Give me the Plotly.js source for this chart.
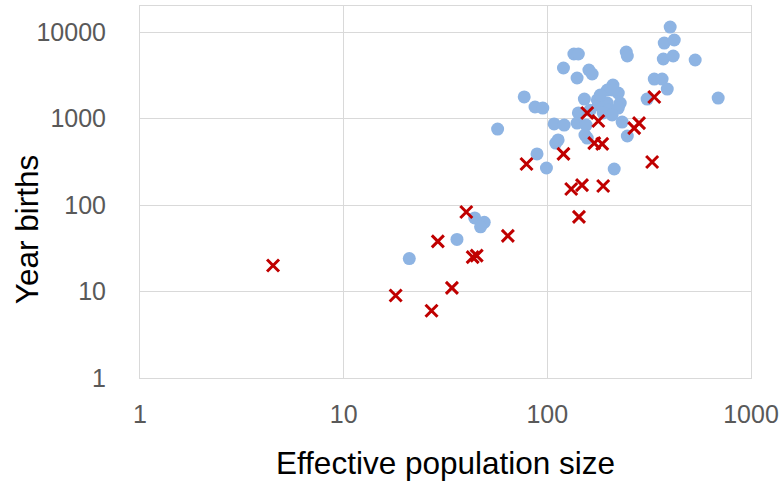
<!DOCTYPE html>
<html>
<head>
<meta charset="utf-8">
<script src="https://cdn.plot.ly/plotly-3.0.1.min.js"></script>
<style>html,body{margin:0;padding:0;background:#fff;}#chart{width:783px;height:482px;}</style>
</head>
<body>
<div id="chart"></div>
<script>
// Blue circles: effective population size vs year births
const blueNe = [21, 36, 44, 49, 47, 57, 77, 87, 95, 108, 121, 113, 110, 89, 99,
  135, 142, 120, 140, 160, 166, 244, 247, 401, 375, 420, 371, 415, 532, 335, 366, 388, 690,
  309, 152, 142, 140, 155, 153, 157, 213, 233, 247,
  210, 197, 223, 176, 197, 228, 178, 199, 223, 162, 188, 210, 208, 182];
const blueBirths = [24, 40, 71, 63, 56, 755, 1775, 1360, 1320, 865, 840, 565, 520, 390, 268,
  5570, 5570, 3840, 2940, 3640, 3270, 5870, 5280, 11400, 7460, 8090, 4875, 5280, 4750, 2860, 2860, 2190, 1725,
  1680, 1680, 1160, 887, 840, 645, 595, 261, 910, 628,
  2440, 2135, 1970, 1640, 1510, 1510, 1430, 1250, 1320, 1250, 1160, 2135, 1100, 1870];

// Red crosses
const redNe = [4.5, 18, 27, 34, 29, 40, 43, 45, 64, 79, 120, 131, 148, 188, 143, 327,
  157, 178, 170, 186, 267, 282, 335];
const redBirths = [20, 9, 6, 11, 38, 83, 25, 26, 44, 298, 390, 153, 170, 166, 73, 314,
  1160, 935, 520, 510, 775, 885, 1775];

const xTicks = [1, 10, 100, 1000];
const xTickText = ["1", "10", "100", "1000"];
const yTicks = [1, 10, 100, 1000, 10000];
const yTickText = ["1", "10", "100", "1000", "10000"];

const fontFam = '"Liberation Sans", Arial, sans-serif';

const traces = [
  {
    x: blueNe, y: blueBirths, type: 'scatter', mode: 'markers',
    marker: {symbol: 'circle', size: 13, color: '#8EB4E3', line: {width: 0}},
    hoverinfo: 'skip', showlegend: false
  },
  {
    x: redNe, y: redBirths, type: 'scatter', mode: 'markers',
    marker: {symbol: 'x-thin', size: 12, color: '#C00000', line: {width: 3, color: '#C00000'}},
    hoverinfo: 'skip', showlegend: false
  }
];

const layout = {
  width: 783, height: 482,
  margin: {l: 140, r: 32, t: 6, b: 104},
  paper_bgcolor: '#ffffff', plot_bgcolor: '#ffffff',
  font: {family: fontFam, color: '#595959'},
  xaxis: {
    type: 'log', range: [0, 3],
    tickvals: xTicks, ticktext: xTickText,
    ticks: '', ticklabelstandoff: 14,
    tickfont: {size: 25, color: '#595959', family: fontFam},
    showgrid: true, gridcolor: '#D9D9D9', gridwidth: 1,
    showline: true, linecolor: '#D9D9D9', linewidth: 1, mirror: true,
    zeroline: false,
    title: {text: 'Effective population size', font: {size: 31.5, color: '#000000', family: fontFam}, standoff: 24}
  },
  yaxis: {
    type: 'log', range: [0, 4.301],
    tickvals: yTicks, ticktext: yTickText,
    ticks: '', ticklabelstandoff: 28,
    tickfont: {size: 25, color: '#595959', family: fontFam},
    showgrid: true, gridcolor: '#D9D9D9', gridwidth: 1,
    showline: true, linecolor: '#D9D9D9', linewidth: 1, mirror: true,
    zeroline: false
  },
  annotations: [{
    text: 'Year births', textangle: -90, showarrow: false,
    xref: 'paper', yref: 'paper', x: -0.185, y: 0.40,
    xanchor: 'center', yanchor: 'middle',
    font: {size: 31.5, color: '#000000', family: fontFam}
  }]
};

Plotly.newPlot('chart', traces, layout, {staticPlot: true, displayModeBar: false});
</script>
</body>
</html>
